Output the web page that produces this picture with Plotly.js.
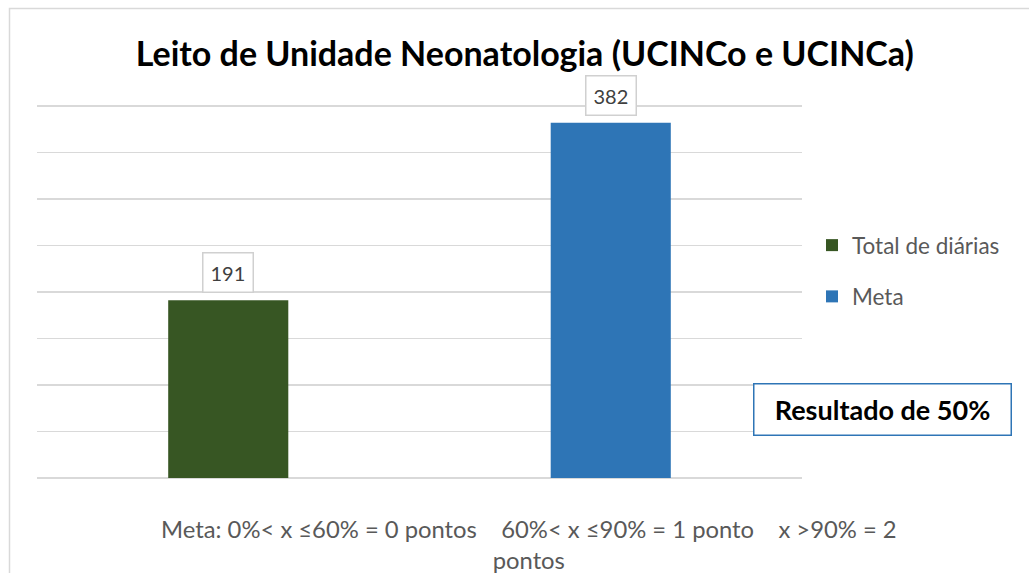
<!DOCTYPE html>
<html>
<head>
<meta charset="utf-8">
<script src="https://cdn.plot.ly/plotly-3.0.1.min.js"></script>
<style>html,body{margin:0;padding:0;background:#fff;}#chart{width:1029px;height:573px;}</style>
</head>
<body>
<div id="chart"></div>
<script>
const categories = ["Total de diárias", "Meta"];
const values = [191, 382];
const colors = ["#375623", "#2E75B6"];
const titleText = "Leito de Unidade Neonatologia (UCINCo e UCINCa)";
const footnote = "Meta: 0%&lt; x ≤60% = 0 pontos &nbsp;&nbsp; 60%&lt; x ≤90% = 1 ponto &nbsp;&nbsp; x &gt;90% = 2<br>pontos";
const resultText = "<b>Resultado de 50%</b>";

const FONT = "Lato, 'Open Sans', sans-serif";

// plot area geometry (pixels)
const L = 37, R = 802, T = 97, B = 478;
const px = v => (v - L) / (R - L);
const py = v => (B - v) / (B - T);

const traces = categories.map((c, i) => ({
  type: "bar",
  name: c,
  x: [i],
  y: [values[i]],
  width: 0.314,
  marker: {color: colors[i]},
  legendgroup: "g" + i,
  hoverinfo: "skip"
}));

const labelAnns = categories.map((c, i) => ({
  x: i, y: values[i], xref: "x", yref: "y",
  text: String(values[i]),
  showarrow: false, yanchor: "bottom", yshift: 7,
  font: {family: FONT, size: 20, color: "#404040"},
  bordercolor: "#d0d0d0", borderwidth: 1.5, borderpad: 7, bgcolor: "#ffffff"
}));

const layout = {
  width: 1029, height: 573,
  margin: {l: L, r: 1029 - R, t: T, b: 573 - B},
  paper_bgcolor: "#ffffff", plot_bgcolor: "#ffffff",
  barmode: "overlay",
  title: {text: "<b>" + titleText + "</b>", x: 0.51, xanchor: "center", y: 0.905, yanchor: "middle",
          font: {family: FONT, size: 34, color: "#000000"}},
  xaxis: {range: [-0.5, 1.5], showticklabels: false, showgrid: false, zeroline: false, showline: false, fixedrange: true},
  yaxis: {range: [0, 400 * (B - T) / 372], tick0: 0, dtick: 50, showticklabels: false, showgrid: true, gridcolor: "#d9d9d9", gridwidth: 1.3,
          zeroline: true, zerolinecolor: "#d9d9d9", zerolinewidth: 1.3, fixedrange: true},
  showlegend: true,
  legend: {x: px(812), xanchor: "left", y: py(271), yanchor: "middle", traceorder: "grouped", tracegroupgap: 19,
           font: {family: FONT, size: 22.5, color: "#595959"}, itemwidth: 30},
  shapes: [{
    type: "rect", xref: "paper", yref: "paper",
    x0: px(9.5), x1: px(1045),
    y0: py(590), y1: py(8.5),
    line: {color: "#d9d9d9", width: 1.5}, fillcolor: "rgba(0,0,0,0)", layer: "below"
  }],
  annotations: labelAnns.concat([
    {xref: "paper", yref: "paper", x: px(882), y: py(409), xanchor: "center", yanchor: "middle",
     text: resultText, showarrow: false, font: {family: FONT, size: 27, color: "#000000"},
     width: 252, height: 46, bordercolor: "#2E75B6", borderwidth: 1.5, borderpad: 2, bgcolor: "#ffffff"},
    {xref: "paper", yref: "paper", x: px(529), y: py(544), xanchor: "center", yanchor: "middle",
     text: footnote, showarrow: false, font: {family: FONT, size: 23.8, color: "#595959"}}
  ])
};

Plotly.newPlot("chart", traces, layout, {displayModeBar: false, staticPlot: true});
</script>
</body>
</html>
